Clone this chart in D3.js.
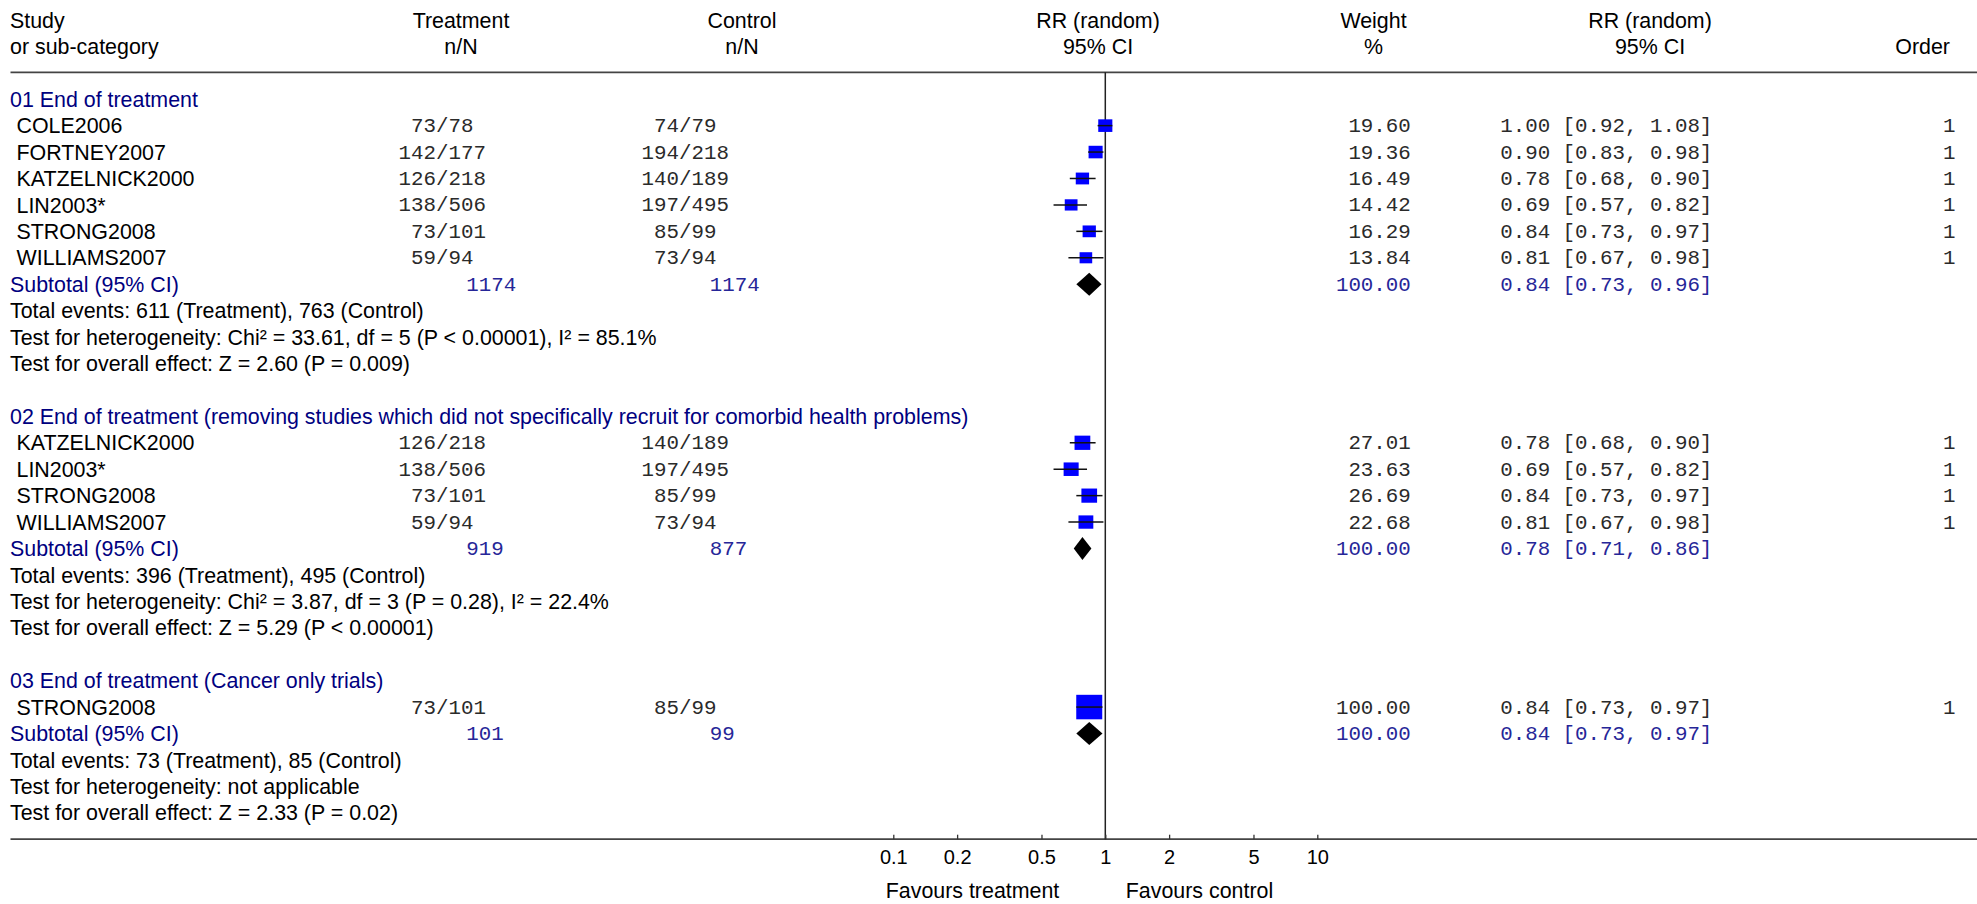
<!DOCTYPE html>
<html><head><meta charset="utf-8">
<script src="https://cdn.jsdelivr.net/npm/d3@7"></script>
<style>
html,body{margin:0;padding:0;background:#fff;}
svg{display:block;}
.sans{font-family:"Liberation Sans",Arial,sans-serif;font-size:21.4px;fill:#000;}
.mono{font-family:"Liberation Mono","Courier New",monospace;font-size:20.8px;fill:#2a2a2a;}
.sans.blue{fill:#000080;}
.mono.blue{fill:#262698;}
</style></head><body>
<svg id="chart" width="1977" height="904"></svg>
<script>
// ---------- data ----------
const groupTitles = [
  "01 End of treatment",
  "02 End of treatment (removing studies which did not specifically recruit for comorbid health problems)",
  "03 End of treatment (Cancer only trials)"
];
const studyGroup  = [0, 0, 0, 0, 0, 0, 1, 1, 1, 1, 2];
const studyNames  = ["COLE2006", "FORTNEY2007", "KATZELNICK2000", "LIN2003*", "STRONG2008", "WILLIAMS2007",
                     "KATZELNICK2000", "LIN2003*", "STRONG2008", "WILLIAMS2007", "STRONG2008"];
const treatEvents = [73, 142, 126, 138, 73, 59, 126, 138, 73, 59, 73];
const treatTotal  = [78, 177, 218, 506, 101, 94, 218, 506, 101, 94, 101];
const ctrlEvents  = [74, 194, 140, 197, 85, 73, 140, 197, 85, 73, 85];
const ctrlTotal   = [79, 218, 189, 495, 99, 94, 189, 495, 99, 94, 99];
const weights     = [19.60, 19.36, 16.49, 14.42, 16.29, 13.84, 27.01, 23.63, 26.69, 22.68, 100.00];
const rr          = [1.00, 0.90, 0.78, 0.69, 0.84, 0.81, 0.78, 0.69, 0.84, 0.81, 0.84];
const rrLow       = [0.92, 0.83, 0.68, 0.57, 0.73, 0.67, 0.68, 0.57, 0.73, 0.67, 0.73];
const rrHigh      = [1.08, 0.98, 0.90, 0.82, 0.97, 0.98, 0.90, 0.82, 0.97, 0.98, 0.97];
const studyOrder  = [1, 1, 1, 1, 1, 1, 1, 1, 1, 1, 1];

const subTreatN   = [1174, 919, 101];
const subCtrlN    = [1174, 877, 99];
const subWeight   = [100.00, 100.00, 100.00];
const subRR       = [0.84, 0.78, 0.84];
const subLow      = [0.73, 0.71, 0.73];
const subHigh     = [0.96, 0.86, 0.97];

const totalEventsText = [
  "Total events: 611 (Treatment), 763 (Control)",
  "Total events: 396 (Treatment), 495 (Control)",
  "Total events: 73 (Treatment), 85 (Control)"
];
const heterogeneityText = [
  "Test for heterogeneity: Chi² = 33.61, df = 5 (P < 0.00001), I² = 85.1%",
  "Test for heterogeneity: Chi² = 3.87, df = 3 (P = 0.28), I² = 22.4%",
  "Test for heterogeneity: not applicable"
];
const overallEffectText = [
  "Test for overall effect: Z = 2.60 (P = 0.009)",
  "Test for overall effect: Z = 5.29 (P < 0.00001)",
  "Test for overall effect: Z = 2.33 (P = 0.02)"
];
const axisTicks = [0.1, 0.2, 0.5, 1, 2, 5, 10];
const axisLabels = ["Favours treatment", "Favours control"];

// ---------- layout ----------
const svg = d3.select("#chart");
const x = d3.scaleLog().domain([0.1, 10]).range([893.3, 1317.3]);
const yRow = d3.scaleLinear().domain([0, 28]).range([99.2, 839.2]);
const sizeScale = d3.scalePow().exponent(0.5).domain([13.84, 100]).range([12.6, 26]);
const f2 = d3.format(".2f");

const COL = {
  label: 10, study: 16.5,
  treatSlash: 436, ctrlSlash: 679,
  treatSub: 466.3, ctrlSub: 709.7,
  weightR: 1410.8, rrL: 1500.2, orderR: 1955.5,
  hTreat: 461, hCtrl: 742, hRR: 1098, hWeight: 1373.5, hRR2: 1650, hOrderR: 1950
};
const SANS_DY = 7.6, MONO_DY = 6.5;

// build rows
const rows = [];
groupTitles.forEach((t, g) => {
  rows.push({type: "group", g});
  studyGroup.forEach((sg, s) => { if (sg === g) rows.push({type: "study", s}); });
  rows.push({type: "subtotal", g});
  rows.push({type: "text", text: totalEventsText[g]});
  rows.push({type: "text", text: heterogeneityText[g]});
  rows.push({type: "text", text: overallEffectText[g]});
  rows.push({type: "blank"});
});

function sans(xp, yp, txt, anchor, cls) {
  return svg.append("text").attr("class", "sans" + (cls ? " " + cls : ""))
    .attr("x", xp).attr("y", yp).attr("text-anchor", anchor || "start").text(txt);
}
function mono(xp, yp, txt, anchor, cls) {
  return svg.append("text").attr("class", "mono" + (cls ? " " + cls : ""))
    .attr("x", xp).attr("y", yp).attr("text-anchor", anchor || "start").text(txt);
}

// ---------- headers ----------
const h1 = yRow(-3) + SANS_DY, h2 = yRow(-2) + SANS_DY;
sans(COL.label, h1, "Study");
sans(COL.label, h2, "or sub-category");
sans(COL.hTreat, h1, "Treatment", "middle");
sans(COL.hTreat, h2, "n/N", "middle");
sans(COL.hCtrl, h1, "Control", "middle");
sans(COL.hCtrl, h2, "n/N", "middle");
sans(COL.hRR, h1, "RR (random)", "middle");
sans(COL.hRR, h2, "95% CI", "middle");
sans(COL.hWeight, h1, "Weight", "middle");
sans(COL.hWeight, h2, "%", "middle");
sans(COL.hRR2, h1, "RR (random)", "middle");
sans(COL.hRR2, h2, "95% CI", "middle");
sans(COL.hOrderR, h2, "Order", "end");

// header rule, axis rule, line of no effect
const headerY = 72.3;
svg.append("line").attr("x1", 10.5).attr("x2", 1977).attr("y1", headerY).attr("y2", headerY)
  .attr("stroke", "#444").attr("stroke-width", 1.8);
svg.append("line").attr("x1", 10.5).attr("x2", 1977).attr("y1", yRow(28)).attr("y2", yRow(28))
  .attr("stroke", "#444").attr("stroke-width", 1.8);
svg.append("line").attr("x1", x(1)).attr("x2", x(1)).attr("y1", headerY).attr("y2", yRow(28))
  .attr("stroke", "#222").attr("stroke-width", 1.5);

// ---------- rows ----------
rows.forEach((r, i) => {
  const cy = yRow(i);
  if (r.type === "group") {
    sans(COL.label, cy + SANS_DY, groupTitles[r.g], "start", "blue");
  } else if (r.type === "text") {
    sans(COL.label, cy + SANS_DY, r.text);
  } else if (r.type === "study") {
    const s = r.s, my = cy + MONO_DY;
    sans(COL.study, cy + SANS_DY, studyNames[s]);
    mono(COL.treatSlash, my, String(treatEvents[s]), "end");
    mono(COL.treatSlash, my, "/" + treatTotal[s]);
    mono(COL.ctrlSlash, my, String(ctrlEvents[s]), "end");
    mono(COL.ctrlSlash, my, "/" + ctrlTotal[s]);
    mono(COL.weightR, my, f2(weights[s]), "end");
    mono(COL.rrL, my, f2(rr[s]) + " [" + f2(rrLow[s]) + ", " + f2(rrHigh[s]) + "]");
    mono(COL.orderR, my, String(studyOrder[s]), "end");
    const sz = sizeScale(weights[s]);
    svg.append("rect").attr("x", x(rr[s]) - sz / 2).attr("y", cy - (sz - 1.5) / 2)
      .attr("width", sz).attr("height", sz - 1.5).attr("fill", "#0000ff");
    svg.append("line").attr("x1", x(rrLow[s])).attr("x2", x(rrHigh[s])).attr("y1", cy).attr("y2", cy)
      .attr("stroke", "#111").attr("stroke-width", 1.5);
  } else if (r.type === "subtotal") {
    const g = r.g, my = cy + MONO_DY;
    sans(COL.label, cy + SANS_DY, "Subtotal (95% CI)", "start", "blue");
    mono(COL.treatSub, my, String(subTreatN[g]), "start", "blue");
    mono(COL.ctrlSub, my, String(subCtrlN[g]), "start", "blue");
    mono(COL.weightR, my, f2(subWeight[g]), "end", "blue");
    mono(COL.rrL, my, f2(subRR[g]) + " [" + f2(subLow[g]) + ", " + f2(subHigh[g]) + "]", "start", "blue");
    const hh = 11.5;
    const pts = [[x(subLow[g]), cy], [x(subRR[g]), cy - hh], [x(subHigh[g]), cy], [x(subRR[g]), cy + hh]];
    svg.append("polygon").attr("points", pts.map(p => p.join(",")).join(" ")).attr("fill", "#000");
  }
});

// ---------- axis ----------
const axis = d3.axisBottom(x).tickValues(axisTicks).tickFormat(d => String(d))
  .tickSizeInner(-4.5).tickSizeOuter(0).tickPadding(11.0);
const ag = svg.append("g").attr("transform", `translate(0,${yRow(28)})`).call(axis);
ag.select(".domain").remove();
ag.selectAll(".tick line").attr("stroke", "#333").attr("stroke-width", 1.3);
ag.selectAll(".tick text").attr("font-family", '"Liberation Sans",Arial,sans-serif')
  .attr("font-size", 20).attr("fill", "#000");

const favY = 897.5;
sans(x(1) - 46, favY, axisLabels[0], "end");
sans(x(1) + 20.5, favY, axisLabels[1], "start");
</script>
</body></html>
